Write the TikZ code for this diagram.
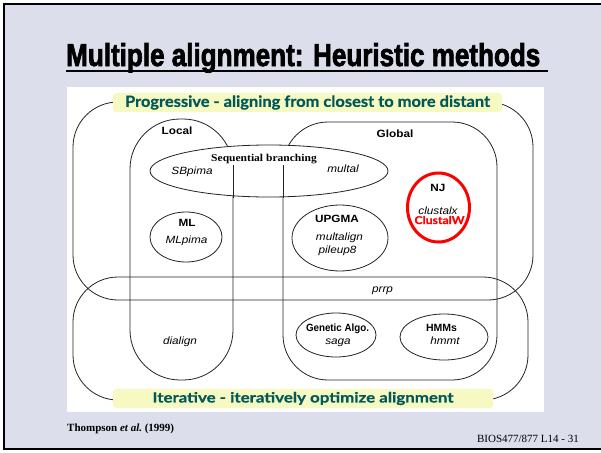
\documentclass[tikz,border=0pt]{standalone}
\usepackage{fontspec}
\usepackage{graphicx}
\setmainfont{Liberation Sans}
\newfontfamily\seriffont{Liberation Serif}
\newfontfamily\titlefont{Liberation Sans}[BoldFeatures={FakeBold=2.5}]
\newfontfamily\comicfont{Lato}[BoldFeatures={FakeBold=0.6}]
\usetikzlibrary{shapes.geometric}

\definecolor{slidebg}{RGB}{220,222,236}
\definecolor{labelfill}{RGB}{247,249,194}
\definecolor{labeltext}{RGB}{0,88,88}
\definecolor{ink}{RGB}{35,35,35}

% slightly widened sans text, as in the scanned figure
\newcommand\widetext[1]{\scalebox{1.12}[1]{#1}}

\tikzset{
  setline/.style={draw=ink, line width=0.8pt},
  oval/.style={ellipse, draw=ink, line width=0.8pt, inner sep=0pt},
  txt/.style={anchor=base, inner sep=0pt, text=black, font=\fontsize{10.5}{12}\selectfont},
  banner/.style={fill=labelfill, rounded corners=3pt, inner sep=0pt, text=labeltext},
}

\begin{document}
\begin{tikzpicture}[x=1pt,y=-1pt]
  \useasboundingbox (0,0) rectangle (601,452);
  \fill[white] (0,0) rectangle (601,452);

  % slide frame and white panel
  \draw[line width=2.5pt, fill=slidebg] (4,4) rectangle (620,449);
  \fill[white] (67,87) rectangle (544,412);

  % title
  \node[anchor=base west, inner sep=0pt] (title) at (66,66)
    {\resizebox{474pt}{23pt}{\titlefont\bfseries Multiple alignment: Heuristic methods}};
  \draw[line width=2pt] (66,70.5) -- (548,70.5);

  % the two big families
  \draw[setline, rounded corners=45pt] (73,102) rectangle (533,300);
  \draw[setline, rounded corners=45pt] (73,277) rectangle (528,400);

  % local and global
  \draw[setline, rounded corners=50pt] (130,119) rectangle (233,380);
  \draw[setline, rounded corners=45pt] (283,122) rectangle (497,380);

  % sequential branching
  \node[oval, fill=white, minimum width=238pt, minimum height=52pt] (seq) at (269,171) {};
  \draw[setline] (233,165) -- (233,198);
  \draw[setline] (283,165) -- (283,198);
  \node[txt] (seqlbl) at (264,161) {\scalebox{1.1}[1]{\seriffont\bfseries Sequential branching}};
  \node[txt] (sbpima) at (192,174) {\widetext{\itshape SBpima}};
  \node[txt] (multal) at (343,172) {\widetext{\itshape multal}};

  % set labels
  \node[txt] (local) at (177,134.5) {\widetext{\bfseries Local}};
  \node[txt] (global) at (395,137) {\widetext{\bfseries Global}};

  % methods
  \node[oval, minimum width=72pt, minimum height=50pt] (ml) at (186,237) {};
  \node[txt] (mllbl) at (187,226) {\widetext{\bfseries ML}};
  \node[txt] (mlpima) at (186.5,243) {\widetext{\itshape MLpima}};

  \node[oval, minimum width=96pt, minimum height=66pt] (upgma) at (340,238) {};
  \node[txt] (upgmalbl) at (337,222) {\widetext{\bfseries UPGMA}};
  \node[txt] (multalign) at (339.5,240) {\widetext{\itshape multalign}};
  \node[txt] (pileup) at (337.5,253) {\widetext{\itshape pileup8}};

  \node[ellipse, draw=red, line width=3pt, inner sep=0pt, minimum width=62pt, minimum height=69pt] (nj) at (438.5,207.5) {};
  \node[txt] (njlbl) at (438,191.5) {\widetext{\bfseries NJ}};
  \node[txt] (clustalx) at (438,214) {\widetext{\itshape clustalx}};
  \node[txt, text=red] (clustalw) at (439.5,224) {\resizebox{50pt}{8pt}{\comicfont\bfseries ClustalW}};

  \node[txt] (prrp) at (382.5,292) {\widetext{\itshape prrp}};
  \node[txt] (dialign) at (180,344) {\widetext{\itshape dialign}};

  \node[oval, minimum width=80pt, minimum height=44pt] (ga) at (336,335) {};
  \node[txt] (galbl) at (337.5,331) {\scalebox{0.93}[1]{\bfseries Genetic Algo.}};
  \node[txt] (saga) at (338,344) {\widetext{\itshape saga}};

  \node[oval, minimum width=88pt, minimum height=46pt] (hmm) at (444,337) {};
  \node[txt] (hmmlbl) at (441.5,331) {\bfseries HMMs};
  \node[txt] (hmmt) at (445,344) {\widetext{\itshape hmmt}};

  % family banners
  \node[banner, minimum width=389pt, minimum height=19pt] (prog) at (307.5,102.5)
    {\resizebox{365pt}{11.5pt}{\comicfont\bfseries Progressive - aligning from closest to more distant}};
  \node[banner, minimum width=380pt, minimum height=19pt] (iter) at (303,398.5)
    {\resizebox{301pt}{10.5pt}{\comicfont\bfseries Iterative - iteratively optimize alignment}};

  % footer
  \node[anchor=base west, inner sep=0pt] (cite) at (67,431.5)
    {\fontsize{11}{13}\seriffont\bfseries Thompson {\itshape et al.}\ (1999)};
  \node[anchor=base east, inner sep=0pt] (slideno) at (579,442.5)
    {\fontsize{11}{13}\seriffont BIOS477/877 L14 - 31};
\end{tikzpicture}
\end{document}
